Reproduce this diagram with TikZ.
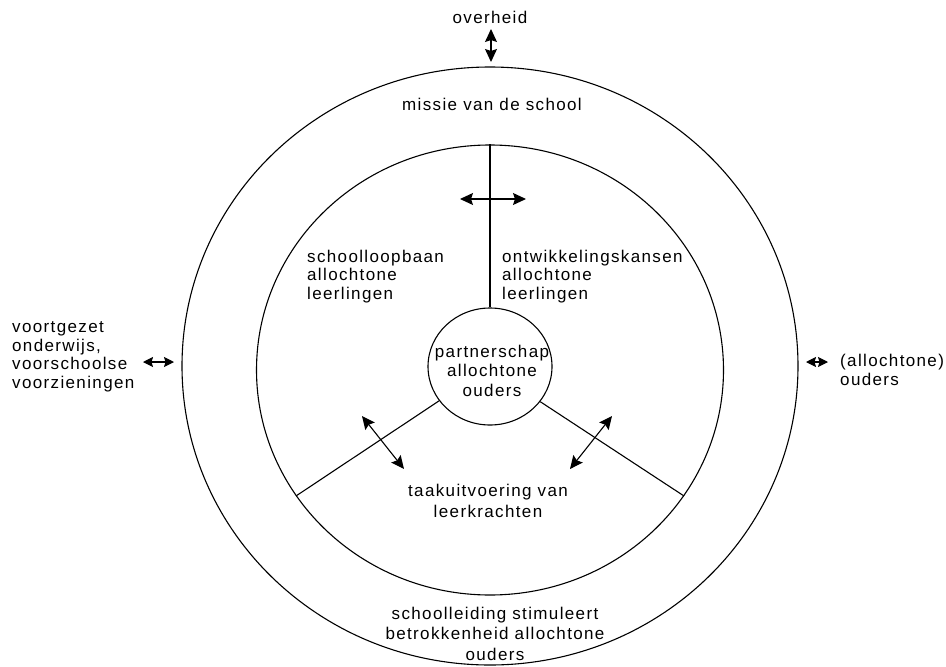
\documentclass[tikz,border=0pt]{standalone}
\usepackage{fontspec}
\setmainfont{Liberation Sans}[LetterSpace=8]
\usetikzlibrary{shapes.geometric,arrows.meta}

\tikzset{
  ring/.style={draw, ellipse, line width=1.1pt, inner sep=0pt},
  divider/.style={line width=1.1pt},
  lbl/.style={inner sep=0pt, font=\fontsize{17}{18.4}\selectfont},
  twoway/.style={line width=1.1pt,
    {Stealth[length=13pt,width=12pt,inset=2pt]}-{Stealth[length=13pt,width=12pt,inset=2pt]}},
  smallway/.style={line width=1.1pt,
    {Stealth[length=10pt,width=10pt,inset=1.5pt]}-{Stealth[length=10pt,width=10pt,inset=1.5pt]}}
}

\begin{document}
\begin{tikzpicture}[x=1pt,y=-1pt]
\useasboundingbox (0,0) rectangle (946,667);

% rings
\node[ring, minimum width=616pt, minimum height=598pt] (outer) at (490,366) {};
\node[ring, minimum width=467pt, minimum height=450pt] (inner) at (490,370) {};
\node[ring, minimum width=124pt, minimum height=117pt] (hub) at (490,366.5) {};

% segments of the inner ring
\draw[divider] (inner.north) -- (hub.north);
\draw[divider] (hub.214) -- (inner.213);
\draw[divider] (hub.-35) -- (inner.-33);

% labels (base = last line)
\node[lbl, anchor=base] (gov) at (490,23) {overheid};
\node[lbl, anchor=base] (mission) at (492,110) {missie van de school};
\node[lbl, anchor=base west, align=left] (career) at (307,299)
  {schoolloopbaan\\allochtone\\leerlingen};
\node[lbl, anchor=base west, align=left] (chances) at (502,299)
  {ontwikkelingskansen\\allochtone\\leerlingen};
\node[lbl, anchor=base, align=center, font=\fontsize{17}{19.5}\selectfont] (partner) at (492,396)
  {partnerschap\\allochtone\\ouders};
\node[lbl, anchor=base, align=center, font=\fontsize{17}{20.5}\selectfont] (tasks) at (488,517)
  {taakuitvoering van\\leerkrachten};
\node[lbl, anchor=base, align=center, font=\fontsize{17}{20.5}\selectfont] (lead) at (495,660)
  {schoolleiding stimuleert\\betrokkenheid allochtone\\ouders};
\node[lbl, anchor=base west, align=left] (schools) at (12,388)
  {voortgezet\\onderwijs,\\voorschoolse\\voorzieningen};
\node[lbl, anchor=base west, align=left] (parents) at (840,385)
  {(allochtone)\\ouders};

% arrows
\coordinate (topL) at (460,199);
\coordinate (topR) at (526,199);
\coordinate (leftA) at (362,416);
\coordinate (leftB) at (404,469);
\coordinate (rightA) at (612,416);
\coordinate (rightB) at (570,469);
\coordinate (govA) at (491,29);
\coordinate (govB) at (491,62);
\coordinate (schoolA) at (143,362);
\coordinate (schoolB) at (174,362);
\coordinate (parentA) at (806,362);
\coordinate (parentB) at (828,362);

\draw[twoway] (topL) -- (topR);
\draw[twoway] (leftA) -- (leftB);
\draw[twoway] (rightA) -- (rightB);
\draw[twoway] (govA) -- (govB);
\draw[smallway] (schoolA) -- (schoolB);
\draw[smallway] (parentA) -- (parentB);
\end{tikzpicture}
\end{document}
